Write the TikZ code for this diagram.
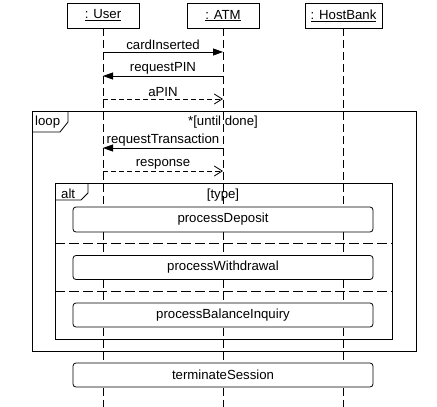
\documentclass[tikz,border=0pt]{standalone}
\usepackage{fontspec}
\setmainfont{Liberation Sans}
\usetikzlibrary{arrows.meta}
\begin{document}
\begin{tikzpicture}[x=1pt,y=-1pt,
 every node/.style={font=\fontsize{13.2}{15}\selectfont},
 head/.style={draw,fill=white,line width=0.8pt,minimum height=25pt,inner sep=0pt},
 lifeline/.style={draw,line width=0.8pt,dash pattern=on 8pt off 4pt},
 sync/.style={line width=0.8pt,-{Triangle[length=10pt,width=7pt]}},
 reply/.style={line width=0.8pt,dash pattern=on 5pt off 3pt,-{Straight Barb[length=8pt,width=10pt]}},
 frame/.style={draw,line width=0.8pt,inner sep=0pt},
 sep/.style={line width=0.8pt,dash pattern=on 10pt off 4pt},
 act/.style={draw,fill=white,rounded corners=3pt,line width=0.8pt,minimum width=300pt,inner sep=0pt},
 lbl/.style={inner sep=1.5pt,above,midway}]
\useasboundingbox (0,0) rectangle (437,407);
% fragments
\node[frame,minimum width=384pt,minimum height=240pt] (loop) at (224,231) {};
\node[frame,minimum width=337pt,minimum height=156pt] (alt) at (223.5,261) {};
\draw[line width=0.8pt] (68,111) -- (68,122) -- (60,132) -- (32,132);
\draw[line width=0.8pt] (88,183) -- (88,193) -- (81,200) -- (55,200);
\node[anchor=west,inner sep=0pt] (looplbl) at (35,122) {loop};
\node[anchor=west,inner sep=0pt] (altlbl) at (61,194) {alt};
\node[inner sep=0pt] (cond1) at (223,122) {*[until done]};
\node[inner sep=0pt] (cond2) at (223,195) {[type]};
% heads and lifelines
\node[head,minimum width=72pt] (user) at (103,15.5) {\underline{: User}};
\node[head,minimum width=72pt] (atm) at (223,15.5) {\underline{: ATM}};
\node[head,minimum width=77pt] (bank) at (343.5,15.5) {\underline{: HostBank}};
\coordinate (userE) at (103,407);
\coordinate (atmE) at (223,407);
\coordinate (bankE) at (343,407);
\draw[lifeline] (user.south) -- (userE);
\draw[lifeline] (atm.south) -- (atmE);
\draw[lifeline] (bank.south -| bankE) -- (bankE);
% messages
\coordinate (u1) at (103,52); \coordinate (a1) at (223,52);
\coordinate (u2) at (103,76); \coordinate (a2) at (223,76);
\coordinate (u3) at (103,99); \coordinate (a3) at (223,99);
\coordinate (u4) at (103,148); \coordinate (a4) at (223,148);
\coordinate (u5) at (103,171); \coordinate (a5) at (223,171);
\draw[sync] (u1) -- node[lbl] {cardInserted} (a1);
\draw[sync] (a2) -- node[lbl] {requestPIN} (u2);
\draw[reply] (u3) -- node[lbl] {aPIN} (a3);
\draw[sync] (a4) -- node[lbl] {requestTransaction} (u4);
\draw[reply] (u5) -- node[lbl] {response} (a5);
% separators
\coordinate (s1a) at (55,243); \coordinate (s1b) at (392,243);
\coordinate (s2a) at (55,291); \coordinate (s2b) at (392,291);
\draw[sep] (s1a) -- (s1b);
\draw[sep] (s2a) -- (s2b);
% activities
\node[act,minimum height=25pt] (pd) at (223,219.5) {processDeposit};
\node[act,minimum height=24pt] (pw) at (223,267.5) {processWithdrawal};
\node[act,minimum height=24pt] (pb) at (223,315) {processBalanceInquiry};
\node[act,minimum height=24pt] (ts) at (223,375) {terminateSession};
\end{tikzpicture}
\end{document}
